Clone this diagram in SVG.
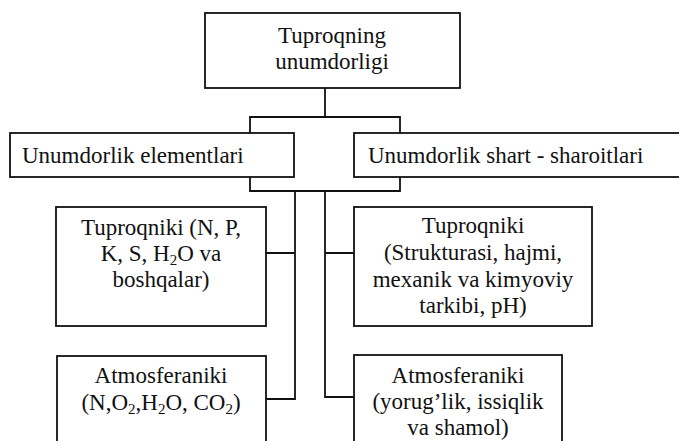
<svg xmlns="http://www.w3.org/2000/svg" width="679" height="441" viewBox="0 0 679 441">
<style>
.box{fill:#fff;stroke:#111;stroke-width:1.8}
.ln{fill:none;stroke:#111;stroke-width:1.8}
text{font-family:'Liberation Serif','DejaVu Serif',serif;font-size:23px;fill:#111}
.c{text-anchor:middle}
.sub{font-size:15px}
</style>
<rect width="679" height="441" fill="#fff"/>
<g id="connectors">
<path class="ln" d="M325,88 V117 M250,133 V117 H400 V133"/>
<path class="ln" d="M250,177 V191 H400 V177"/>
<path class="ln" d="M295,191 V399 H266 M295,253 H266"/>
<path class="ln" d="M325,191 V397 H354 M325,253 H354"/>
</g>
<g id="root">
<rect class="box" x="205" y="13" width="255" height="75"/>
<text class="c" x="332" y="43">Tuproqning</text>
<text class="c" x="332" y="69">unumdorligi</text>
</g>
<g id="elements">
<rect class="box" x="10" y="133" width="284" height="44"/>
<text x="22" y="163">Unumdorlik elementlari</text>
</g>
<g id="conditions">
<rect class="box" x="354" y="133" width="340" height="44"/>
<text x="368" y="163">Unumdorlik shart - sharoitlari</text>
</g>
<g id="soil-elements">
<rect class="box" x="56" y="207" width="210" height="119"/>
<text class="c" x="161" y="235">Tuproqniki (N, P,</text>
<text class="c" x="161" y="261">K, S, H<tspan class="sub" dy="4">2</tspan><tspan dy="-4">O va</tspan></text>
<text class="c" x="161" y="287">boshqalar)</text>
</g>
<g id="atm-elements">
<rect class="box" x="57" y="356" width="209" height="110"/>
<text class="c" x="161" y="383">Atmosferaniki</text>
<text class="c" x="161" y="410">(N,O<tspan class="sub" dy="4">2</tspan><tspan dy="-4">,H</tspan><tspan class="sub" dy="4">2</tspan><tspan dy="-4">O, CO</tspan><tspan class="sub" dy="4">2</tspan><tspan dy="-4">)</tspan></text>
</g>
<g id="soil-conditions">
<rect class="box" x="354" y="207" width="238" height="119"/>
<text class="c" x="473" y="233">Tuproqniki</text>
<text class="c" x="473" y="260">(Strukturasi, hajmi,</text>
<text class="c" x="473" y="287">mexanik va kimyoviy</text>
<text class="c" x="473" y="313">tarkibi, pH)</text>
</g>
<g id="atm-conditions">
<rect class="box" x="354" y="355" width="208" height="110"/>
<text class="c" x="458" y="383">Atmosferaniki</text>
<text class="c" x="458" y="409">(yorug’lik, issiqlik</text>
<text class="c" x="458" y="435">va shamol)</text>
</g>
</svg>
